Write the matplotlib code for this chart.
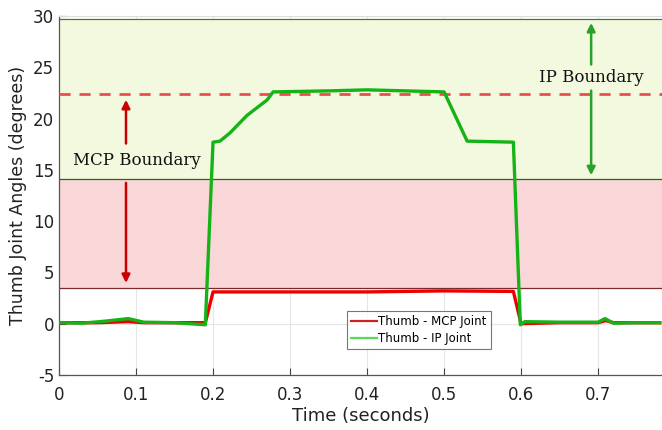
import matplotlib
matplotlib.use("Agg")
import matplotlib.pyplot as plt
from matplotlib.lines import Line2D

plt.rcParams["axes.unicode_minus"] = False

# Data
time_ip = [0.0, 0.03, 0.06, 0.09, 0.11, 0.15, 0.19, 0.20, 0.209, 0.222, 0.244, 0.27, 0.278,
           0.35, 0.40, 0.50, 0.53, 0.59, 0.599, 0.605, 0.65, 0.70, 0.709, 0.72, 0.75, 0.78]
ip_angle = [0.1, 0.05, 0.25, 0.5, 0.15, 0.1, -0.1, 17.7, 17.8, 18.6, 20.3, 21.8, 22.6,
            22.7, 22.8, 22.6, 17.8, 17.7, -0.1, 0.2, 0.15, 0.15, 0.5, 0.05, 0.1, 0.1]

time_mcp = [0.0, 0.05, 0.09, 0.11, 0.15, 0.19, 0.20, 0.30, 0.40, 0.50, 0.59, 0.60, 0.65,
            0.70, 0.71, 0.72, 0.78]
mcp_angle = [0.1, 0.1, 0.2, 0.1, 0.1, 0.1, 3.1, 3.1, 3.1, 3.2, 3.15, 0.0, 0.1,
             0.1, 0.3, 0.1, 0.1]

mcp_zone = [3.5, 14.1]
ip_zone = [14.1, 29.7]
mcp_boundary_dashed = 22.4

xticks = [0, 0.1, 0.2, 0.3, 0.4, 0.5, 0.6, 0.7]
yticks = [-5, 0, 5, 10, 15, 20, 25, 30]

fig = plt.figure(figsize=(6.62, 4.30), dpi=100)
ax = fig.add_axes([59/662, 1 - 375/430, 1 - 59/662, (375 - 16)/430])

ax.set_xlim(0, 0.783)
ax.set_ylim(-5, 30)

ax.grid(True, color="#e6e6e6", linewidth=0.8, zorder=0)
ax.set_axisbelow(True)

# shaded zones
ax.axhspan(ip_zone[0], ip_zone[1], facecolor="#f3f9df", edgecolor="none", zorder=1)
ax.axhspan(mcp_zone[0], mcp_zone[1], facecolor="#f9d6d8", edgecolor="none", zorder=1)
ax.axhline(ip_zone[1], color="#3f7a3f", linewidth=0.9, zorder=2)
ax.axhline(ip_zone[0], color="#2f5f2f", linewidth=0.9, zorder=2)
ax.axhline(mcp_zone[0], color="#7a2a2a", linewidth=0.9, zorder=2)

ax.axhline(mcp_boundary_dashed, color="#ee4d4d", linewidth=2.0, linestyle=(0, (4, 3.2)), zorder=3)

# annotations
ax.annotate("", xy=(0.087, mcp_boundary_dashed - 0.3), xytext=(0.087, 17.3),
            arrowprops=dict(arrowstyle="-|>", color="#c80000", lw=1.8, mutation_scale=12), zorder=4)
ax.annotate("", xy=(0.087, mcp_zone[0] + 0.2), xytext=(0.087, 14.0),
            arrowprops=dict(arrowstyle="-|>", color="#c80000", lw=1.8, mutation_scale=12), zorder=4)
ax.text(0.101, 15.9, "MCP Boundary", family="DejaVu Serif", fontsize=12,
        ha="center", va="center", color="#111111", zorder=5)

ax.annotate("", xy=(0.691, ip_zone[1] - 0.1), xytext=(0.691, 25.0),
            arrowprops=dict(arrowstyle="-|>", color="#2aa12a", lw=1.8, mutation_scale=12), zorder=4)
ax.annotate("", xy=(0.691, ip_zone[0] + 0.1), xytext=(0.691, 23.0),
            arrowprops=dict(arrowstyle="-|>", color="#2aa12a", lw=1.8, mutation_scale=12), zorder=4)
ax.text(0.691, 24.0, "IP Boundary", family="DejaVu Serif", fontsize=12,
        ha="center", va="center", color="#111111", zorder=5)

# data lines
ax.plot(time_mcp, mcp_angle, color="#ee0000", linewidth=2.4, zorder=6)
ax.plot(time_ip, ip_angle, color="#16b316", linewidth=2.4, zorder=7)

handles = [Line2D([], [], color="#cc2222", linewidth=1.6),
           Line2D([], [], color="#5ada5a", linewidth=1.6)]
leg = ax.legend(handles, ["Thumb - MCP Joint", "Thumb - IP Joint"],
                loc="upper left", bbox_to_anchor=((347 - 59)/603, (375 - 311)/359),
                fontsize=8.5, frameon=True, fancybox=False, handlelength=2.2,
                handletextpad=0.1, borderpad=0.35, labelspacing=0.3, borderaxespad=0)
leg.get_frame().set_edgecolor("#555555")
leg.get_frame().set_linewidth(0.8)
leg.set_zorder(10)

ax.set_xticks(xticks)
ax.set_xticklabels([("%g" % v) for v in xticks])
ax.set_yticks(yticks)
ax.tick_params(direction="in", length=5, colors="#444444", labelcolor="#222222",
               labelsize=12, top=False, right=False)
ax.tick_params(axis="x", pad=8)
for side in ["left", "bottom"]:
    ax.spines[side].set_color("#555555")
    ax.spines[side].set_linewidth(0.9)
ax.spines["top"].set_color("#dddddd")
ax.spines["right"].set_visible(False)

ax.set_xlabel("Time (seconds)", fontsize=13, color="#222222", labelpad=2)
ax.set_ylabel("Thumb Joint Angles (degrees)", fontsize=12.5, color="#222222", labelpad=4)

fig.savefig("out.png", dpi=100)
